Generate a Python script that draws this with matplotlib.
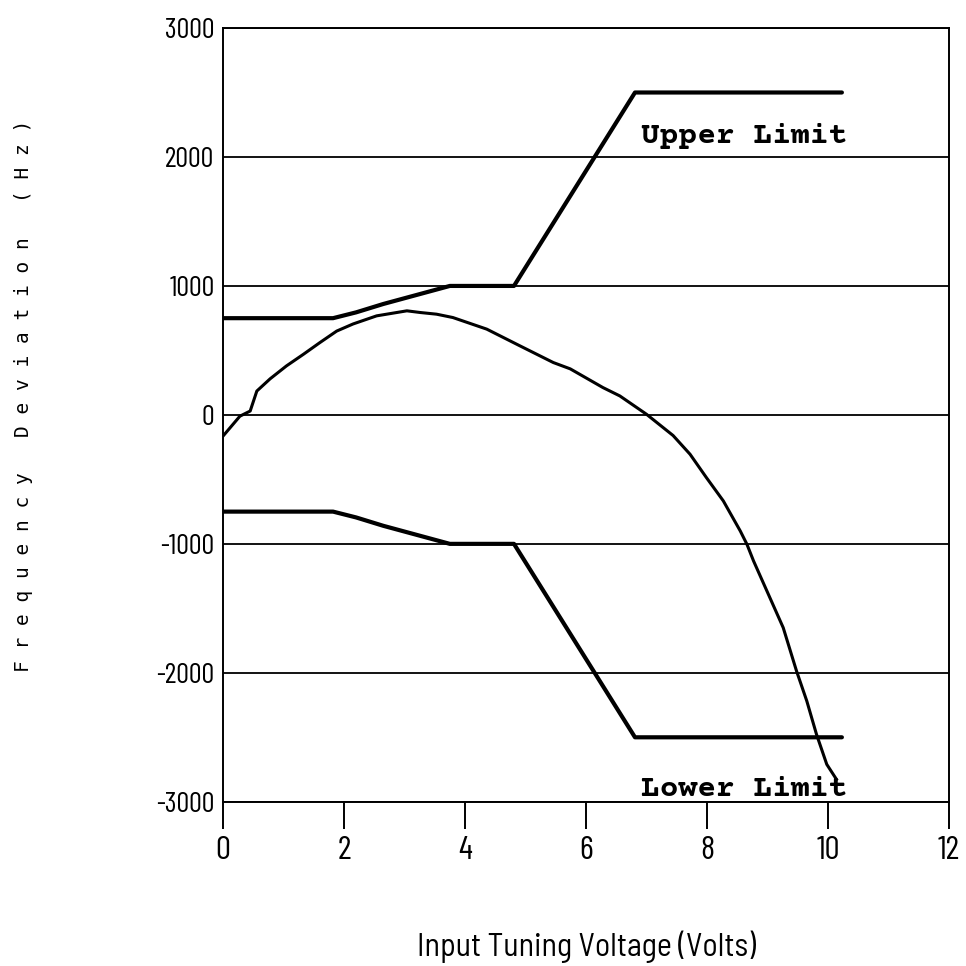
import matplotlib
matplotlib.use("Agg")
import matplotlib.pyplot as plt

# limit envelope (volts, Hz)
limit_v = [0.0, 1.82, 2.2, 2.65, 3.2, 3.75, 4.81, 6.81, 10.23]
upper_hz = [750, 750, 795, 860, 930, 1000, 1000, 2500, 2500]
lower_hz = [-750, -750, -795, -860, -930, -1000, -1000, -2500, -2500]

# measured deviation curve
meas_v = [0.0, 0.28, 0.45, 0.56, 0.78, 1.05, 1.33, 1.6, 1.88, 2.15, 2.54,
          3.04, 3.26, 3.53, 3.8, 4.36, 4.91, 5.46, 5.74, 6.28, 6.56, 7.0,
          7.44, 7.72, 7.99, 8.27, 8.55, 8.66, 8.77, 8.99, 9.26, 9.48, 9.65,
          9.81, 9.98, 10.14]
meas_hz = [-165, -10, 30, 185, 280, 380, 470, 560, 650, 705, 768,
           807, 794, 781, 755, 665, 535, 406, 357, 212, 147, 5,
           -160, -305, -486, -667, -900, -1003, -1133, -1365, -1650, -1986, -2219,
           -2477, -2710, -2826]

x_ticks = [0, 2, 4, 6, 8, 10, 12]
y_ticks = [-3000, -2000, -1000, 0, 1000, 2000, 3000]

narrow = ["Barlow Condensed", "DejaVu Sans"]
semi = ["Barlow Semi Condensed", "Barlow Condensed", "DejaVu Sans"]
mono = ["Courier Prime", "Liberation Mono", "DejaVu Sans Mono"]

fig = plt.figure(figsize=(9.66, 9.66), dpi=100)
ax = fig.add_axes([0.2308, 0.170, 0.7516, 0.801])

for y in y_ticks:
    ax.axhline(y, color="black", lw=1.3, zorder=1)

ax.plot(limit_v, upper_hz, color="black", lw=3.0, solid_capstyle="round", zorder=3)
ax.plot(limit_v, lower_hz, color="black", lw=3.0, solid_capstyle="round", zorder=3)
ax.plot(meas_v, meas_hz, color="black", lw=2.2, zorder=3)

ax.set_xlim(0, 12)
ax.set_ylim(-3000, 3000)
ax.set_xticks(x_ticks)
ax.set_yticks(y_ticks)
ax.set_xticklabels([str(v) for v in x_ticks], family=narrow, fontstretch="condensed", fontsize=24)
ax.set_yticklabels([str(v) for v in y_ticks], family=narrow, fontstretch="condensed", fontsize=20.5)
ax.tick_params(axis="x", direction="out", length=19.5, width=1.4, pad=5)
ax.tick_params(axis="y", length=0, pad=6)

for s in ax.spines.values():
    s.set_linewidth(1.4)

ax.text(6.91, 2110, "Upper Limit", family=mono, fontweight="bold",
        fontsize=22.5, va="baseline", ha="left")
ax.text(6.91, -2955, "Lower Limit", family=mono, fontweight="bold",
        fontsize=22.5, va="baseline", ha="left")

fig.text(0.6066, 0.020, "Input Tuning Voltage (Volts)", family=semi,
         fontstretch="semi-condensed", fontsize=23, ha="center", va="center")
fig.text(0.024, 0.590, "F r e q u e n c y   D e v i a t i o n   ( H z )",
         family=["DejaVu Sans Mono"], fontsize=14, rotation=90,
         ha="center", va="center")

fig.savefig("out.png", dpi=100, facecolor="white")
